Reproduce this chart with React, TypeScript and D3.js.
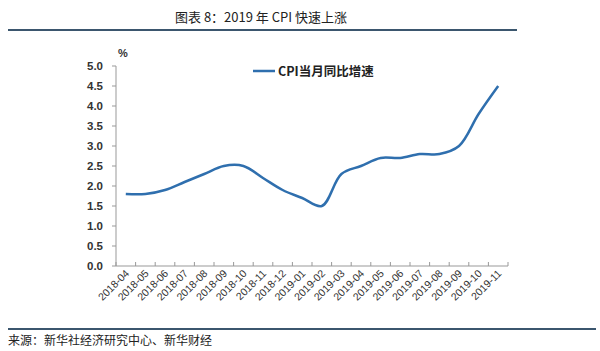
import React from 'react';
import * as d3 from 'd3';

const months = [
  '2018-04', '2018-05', '2018-06', '2018-07', '2018-08', '2018-09', '2018-10',
  '2018-11', '2018-12', '2019-01', '2019-02', '2019-03', '2019-04', '2019-05',
  '2019-06', '2019-07', '2019-08', '2019-09', '2019-10', '2019-11',
];
const cpiYoy = [1.8, 1.8, 1.9, 2.1, 2.3, 2.5, 2.5, 2.2, 1.9, 1.7, 1.5, 2.3, 2.5, 2.7, 2.7, 2.8, 2.8, 3.0, 3.8, 4.5];
const yTicks = [0, 0.5, 1, 1.5, 2, 2.5, 3, 3.5, 4, 4.5, 5];

const W = 600;
const H = 351;
const left = 116;
const right = 508;
const top = 66;
const bottom = 266;
const lineColor = '#2f6fae';
const textColor = '#333';
const font = '"Noto Sans CJK SC", "DejaVu Sans", sans-serif';

const App: React.FC = () => {
  const x = d3.scaleBand<string>().domain(months).range([left, right]);
  const y = d3.scaleLinear().domain([0, 5]).range([bottom, top]);

  const line = d3.line<number>()
    .x((_, i) => (x(months[i]) ?? 0) + x.bandwidth() / 2)
    .y((d) => y(d))
    .curve(d3.curveCatmullRom.alpha(0.5));

  return (
    <div style={{ position: 'absolute', left: 0, top: 0 }}>
      <svg width={W} height={H} style={{ display: 'block', background: '#fff' }}>
        {/* title */}
        <text x={261} y={22} textAnchor="middle" fontFamily={font} fontSize={13} fill="#222">
          图表 8：2019 年 CPI 快速上涨
        </text>
        <line x1={8} x2={517} y1={30} y2={30} stroke="#3b566e" strokeWidth={2} />

        {/* y axis */}
        <line x1={left} x2={left} y1={top} y2={bottom} stroke="#999" strokeWidth={1} />
        {yTicks.map((t) => (
          <g key={t}>
            <line x1={left - 4} x2={left} y1={y(t)} y2={y(t)} stroke="#999" />
            <text x={103} y={y(t) + 4} textAnchor="end" fontFamily="Liberation Sans, Arial, sans-serif"
              fontSize={11.5} fontWeight="bold" fill={textColor}>
              {t.toFixed(1)}
            </text>
          </g>
        ))}
        <text x={123} y={57} textAnchor="middle" fontFamily="Liberation Sans, Arial, sans-serif"
          fontSize={11} fontWeight="bold" fill={textColor}>%</text>

        {/* x axis */}
        <line x1={left} x2={right} y1={bottom} y2={bottom} stroke="#999" strokeWidth={1} />
        {months.map((m) => (
          <line key={'t' + m} x1={x(m)!} x2={x(m)!} y1={bottom} y2={bottom - 4} stroke="#999" />
        ))}
        <line x1={right} x2={right} y1={bottom} y2={bottom - 4} stroke="#999" />
        {months.map((m) => {
          const cx = (x(m) ?? 0) + x.bandwidth() / 2 + 4;
          const cy = bottom + 8;
          return (
            <text key={m} x={cx} y={cy} textAnchor="end" transform={`rotate(-45 ${cx} ${cy})`}
              fontFamily="Liberation Sans, Arial, sans-serif" fontSize={10.5} fill={textColor}>
              {m}
            </text>
          );
        })}

        {/* series */}
        <path d={line(cpiYoy) ?? ''} fill="none" stroke={lineColor} strokeWidth={2.5} />

        {/* legend */}
        <line x1={253} x2={275} y1={71} y2={71} stroke={lineColor} strokeWidth={2.5} />
        <text x={278} y={75.5} fontFamily={font} fontSize={12.5} fontWeight="bold" fill="#222">
          CPI当月同比增速
        </text>

        {/* footer */}
        <line x1={8} x2={596} y1={329} y2={329} stroke="#3b566e" strokeWidth={2} />
        <text x={8} y={345} fontFamily={font} fontSize={12} fill="#222">
          来源：新华社经济研究中心、新华财经
        </text>
      </svg>
    </div>
  );
};

export default App;
